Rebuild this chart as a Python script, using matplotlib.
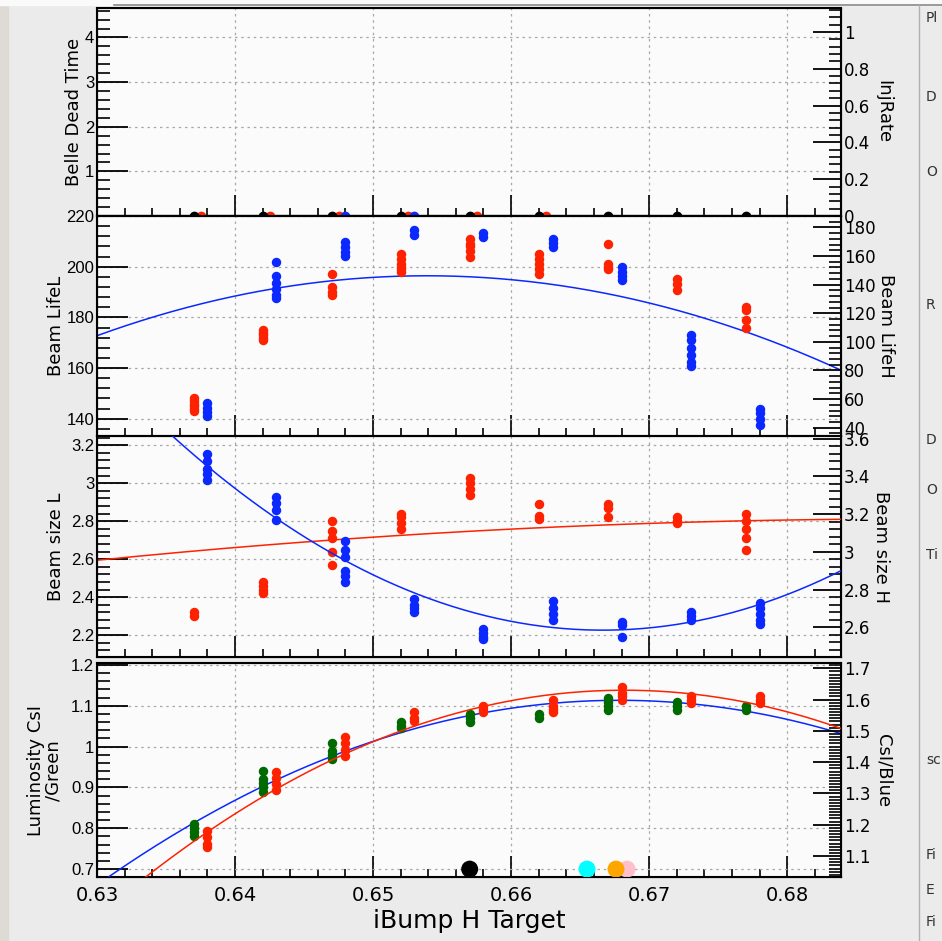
import numpy as np
import matplotlib
matplotlib.use("Agg")
import matplotlib.pyplot as plt
from matplotlib.ticker import MultipleLocator, FormatStrFormatter

# ---- data ----
x_main = [0.637, 0.642, 0.647, 0.652, 0.657, 0.662, 0.667, 0.672, 0.677]
x_off = [0.638, 0.643, 0.648, 0.653, 0.658, 0.663, 0.668, 0.673, 0.678]

# top panel (all sitting at zero)
dead_black_x = [0.637, 0.642, 0.647, 0.652, 0.657, 0.662, 0.667, 0.672, 0.677]
dead_red_x = [0.6375, 0.6425, 0.6475, 0.6525, 0.6575, 0.6625]
dead_blue_x = [0.648, 0.653]

# beam lifetime
life_L = [[148, 147, 146, 145, 144, 143],
          [175, 174, 173, 172, 171],
          [197, 192, 190, 189],
          [205, 203, 201, 200, 199, 198],
          [211, 209, 208, 206, 204],
          [205, 203, 201, 199, 197],
          [209, 201, 200, 199],
          [195, 193, 191],
          [184, 183, 179, 176]]
life_H = [[57, 54, 51, 48],
          [156, 146, 141, 137, 133, 131],
          [170, 166, 163, 160],
          [178, 175],
          [176, 173],
          [172, 169, 166],
          [152, 149, 146, 143],
          [105, 101, 96, 91, 86, 83],
          [53, 50, 46, 42]]
life_fit_x = [0.630, 0.640, 0.6555, 0.670, 0.684]
life_fit_y = [172.4, 189.5, 194.8, 186.8, 158.6]

# beam size
size_L = [[2.32, 2.30],
          [2.48, 2.46, 2.44, 2.42],
          [2.80, 2.75, 2.71, 2.64, 2.57],
          [2.84, 2.82, 2.79, 2.76],
          [3.03, 3.00, 2.97, 2.94],
          [2.89, 2.83, 2.81],
          [2.89, 2.87, 2.82],
          [2.82, 2.80, 2.79],
          [2.84, 2.80, 2.76, 2.71, 2.65]]
size_H = [[3.52, 3.48, 3.44, 3.41, 3.38],
          [3.29, 3.26, 3.22, 3.17],
          [3.06, 3.01, 2.97, 2.90, 2.87, 2.84],
          [2.75, 2.72, 2.70, 2.68],
          [2.59, 2.57, 2.55, 2.54],
          [2.74, 2.70, 2.67, 2.64],
          [2.63, 2.61, 2.55],
          [2.68, 2.66, 2.64],
          [2.73, 2.70, 2.67, 2.64, 2.62]]
sizeL_fit_x = [0.630, 0.650, 0.670, 0.684]
sizeL_fit_y = [2.595, 2.714, 2.791, 2.809]
sizeH_fit_x = [0.6356, 0.6426, 0.650, 0.660, 0.6665, 0.6726, 0.6839]
sizeH_fit_y = [3.614, 3.168, 2.903, 2.639, 2.571, 2.621, 2.903]

# luminosity
lum_green = [[0.81, 0.80, 0.79, 0.78],
             [0.94, 0.92, 0.91, 0.90, 0.89],
             [1.01, 0.99, 0.98, 0.97],
             [1.06, 1.05, 1.045],
             [1.08, 1.07, 1.06],
             [1.08, 1.07],
             [1.12, 1.11, 1.10, 1.09],
             [1.11, 1.10, 1.09],
             [1.10, 1.09]]
lum_red = [[1.18, 1.16, 1.14, 1.13],
           [1.37, 1.35, 1.33, 1.31],
           [1.48, 1.46, 1.44, 1.42],
           [1.56, 1.54, 1.53],
           [1.58, 1.57, 1.56],
           [1.60, 1.58, 1.57, 1.56],
           [1.64, 1.62, 1.61, 1.60],
           [1.61, 1.60, 1.59],
           [1.61, 1.60, 1.59]]
lumG_fit_x = [0.6306, 0.6369, 0.650, 0.660, 0.6691, 0.6839]
lumG_fit_y = [0.682, 0.800, 1.016, 1.098, 1.110, 1.032]
lumB_fit_x = [0.6333, 0.638, 0.650, 0.660, 0.6691, 0.6839]
lumB_fit_y = [1.032, 1.167, 1.465, 1.604, 1.625, 1.508]
marker_x = [0.6570, 0.6655, 0.6684, 0.6676]
marker_c = ['black', 'cyan', 'pink', 'orange']

RED = '#ff2200'
BLUE = '#0a28ff'
GREEN = '#006a00'
XLIM = (0.63, 0.6839)

W, H = 942, 941
fig = plt.figure(figsize=(W / 100, H / 100), dpi=100)
fig.patch.set_facecolor('#ebebeb')

# left textured strip and top white band (GUI window)
fig.patches.append(plt.Rectangle((0, 0), 8 / W, 1, transform=fig.transFigure,
                                 color='#dedbd5', zorder=0))
fig.patches.append(plt.Rectangle((0, 1 - 5 / H), 1, 5 / H, transform=fig.transFigure,
                                 color='#fafafa', zorder=0))
fig.add_artist(plt.Line2D([114 / W, 1], [1 - 5 / H, 1 - 5 / H], color='#888888', lw=1.2))
fig.add_artist(plt.Line2D([919 / W, 919 / W], [0, 1 - 5 / H], color='#b0b0b0', lw=1))
for lab, yy in [('Pl', 18), ('D', 97), ('O', 172), ('R', 305), ('D', 440), ('O', 490),
                ('Ti', 555), ('sc', 760), ('Fi', 855), ('E', 890), ('Fi', 922)]:
    fig.text(926 / W, 1 - yy / H, lab, fontsize=10, color='#333333', va='center',
             family='DejaVu Sans')

L = 97 / W
R = 841 / W
panels = [(8, 216), (216, 436), (436, 657.3), (663.3, 877.3)]


def make_axes(top, bot):
    ax = fig.add_axes([L, 1 - bot / H, R - L, (bot - top) / H])
    ax.set_facecolor('#fbfbfb')
    ax.set_xlim(*XLIM)
    ax.xaxis.set_major_locator(MultipleLocator(0.01))
    ax.xaxis.set_minor_locator(MultipleLocator(0.002))
    ax.tick_params(axis='x', which='major', direction='in', length=15, width=1.2,
                   top=False, labelbottom=False)
    ax.tick_params(axis='x', which='minor', direction='in', length=6, width=1.2, top=False)
    ax.tick_params(axis='y', which='major', direction='in', length=22, width=1.3,
                   labelsize=12, pad=2)
    ax.tick_params(axis='y', which='minor', direction='in', length=9, width=1.2)
    ax.grid(True, which='major', color='#a8a8a8', linestyle=(0, (2, 3)), lw=0.9)
    for s in ax.spines.values():
        s.set_linewidth(1.5)
    tw = ax.twinx()
    tw.tick_params(axis='y', which='major', direction='in', length=20, width=1.3,
                   labelsize=12, pad=2)
    tw.tick_params(axis='y', which='minor', direction='in', length=9, width=1.2)
    return ax, tw


def stacks(ax, xs, groups, color, ms=5.8):
    for xv, g in zip(xs, groups):
        ax.plot([xv] * len(g), g, 'o', color=color, ms=ms, mec=color, zorder=5)


def fit_curve(ax, fx, fy, color, lo=XLIM[0], hi=XLIM[1]):
    c = np.polyfit(fx, fy, 2)
    xx = np.linspace(lo, hi, 300)
    ax.plot(xx, np.polyval(c, xx), color=color, lw=1.1, zorder=4)


def style_right(tw, fmt):
    tw.yaxis.set_major_formatter(FormatStrFormatter(fmt))
    for t in tw.get_yticklabels():
        t.set_family('DejaVu Sans')


# ---- panel 1 ----
ax1, tw1 = make_axes(*panels[0])
ax1.set_ylim(0, 4.66)
ax1.set_yticks([1, 2, 3, 4])
ax1.yaxis.set_minor_locator(MultipleLocator(0.2))
tw1.set_ylim(0, 1.13)
tw1.yaxis.set_major_locator(MultipleLocator(0.2))
tw1.yaxis.set_minor_locator(MultipleLocator(0.04))
ax1.plot(dead_red_x, [0] * len(dead_red_x), 'o', color=RED, ms=6, clip_on=False, zorder=6)
ax1.plot(dead_blue_x, [0] * len(dead_blue_x), 'o', color=BLUE, ms=6, clip_on=False, zorder=6)
ax1.plot(dead_black_x, [0] * len(dead_black_x), 'o', color='black', ms=6, clip_on=False, zorder=7)
ax1.axhline(0, color='black', lw=1.6)
ax1.set_ylabel('Belle Dead Time', fontsize=13, family='DejaVu Sans', labelpad=1)
tw1.set_ylabel('InjRate', fontsize=13, rotation=-90, labelpad=16, family='DejaVu Sans')
style_right(tw1, '%g')

# ---- panel 2 ----
ax2, tw2 = make_axes(*panels[1])
ax2.set_ylim(133.2, 220)
ax2.yaxis.set_major_locator(MultipleLocator(20))
ax2.yaxis.set_minor_locator(MultipleLocator(4))
tw2.set_ylim(34.2, 188)
tw2.yaxis.set_major_locator(MultipleLocator(20))
tw2.yaxis.set_minor_locator(MultipleLocator(4))
stacks(ax2, x_main, life_L, RED)
stacks(tw2, x_off, life_H, BLUE)
fit_curve(ax2, life_fit_x, life_fit_y, BLUE)
ax2.set_ylabel('Beam LifeL', fontsize=13, family='DejaVu Sans', labelpad=1)
tw2.set_ylabel('Beam LifeH', fontsize=13, rotation=-90, labelpad=14, family='DejaVu Sans')
style_right(tw2, '%g')

# ---- panel 3 ----
ax3, tw3 = make_axes(*panels[2])
ax3.set_ylim(2.083, 3.249)
ax3.yaxis.set_major_locator(MultipleLocator(0.2))
ax3.yaxis.set_minor_locator(MultipleLocator(0.04))
ax3.yaxis.set_major_formatter(FormatStrFormatter('%g'))
tw3.set_ylim(2.441, 3.614)
tw3.yaxis.set_major_locator(MultipleLocator(0.2))
tw3.yaxis.set_minor_locator(MultipleLocator(0.04))
stacks(ax3, x_main, size_L, RED)
stacks(tw3, x_off, size_H, BLUE)
fit_curve(ax3, sizeL_fit_x, sizeL_fit_y, RED)
fit_curve(tw3, sizeH_fit_x, sizeH_fit_y, BLUE, lo=0.6355)
ax3.set_ylabel('Beam size L', fontsize=13, family='DejaVu Sans', labelpad=4)
tw3.set_ylabel('Beam size H', fontsize=13, rotation=-90, labelpad=14, family='DejaVu Sans')
style_right(tw3, '%g')

# ---- panel 4 ----
ax4, tw4 = make_axes(*panels[3])
ax4.set_ylim(0.680, 1.204)
ax4.yaxis.set_major_locator(MultipleLocator(0.1))
ax4.yaxis.set_minor_locator(MultipleLocator(0.02))
ax4.yaxis.set_major_formatter(FormatStrFormatter('%g'))
tw4.set_ylim(1.032, 1.716)
tw4.yaxis.set_major_locator(MultipleLocator(0.1))
tw4.yaxis.set_minor_locator(MultipleLocator(0.01))
stacks(ax4, x_main, lum_green, GREEN)
stacks(tw4, x_off, lum_red, RED)
fit_curve(ax4, lumG_fit_x, lumG_fit_y, BLUE)
fit_curve(tw4, lumB_fit_x, lumB_fit_y, RED)
ax4.scatter(marker_x, [0.7] * len(marker_x), s=150, c=marker_c, zorder=8, lw=0)
ax4.tick_params(axis='x', labelbottom=True, labelsize=14, pad=6)
ax4.xaxis.set_major_formatter(FormatStrFormatter('%.2f'))
for t in ax4.get_xticklabels():
    t.set_family('DejaVu Sans')
ax4.set_xlabel('iBump H Target', fontsize=18, family='DejaVu Sans', labelpad=3)
ax4.set_ylabel('Luminosity CsI\n/Green', fontsize=13, family='DejaVu Sans',
               labelpad=6, linespacing=1.0)
tw4.set_ylabel('CsI/Blue', fontsize=13, rotation=-90, labelpad=16, family='DejaVu Sans')
style_right(tw4, '%g')
for a in (ax1, ax2, ax3, ax4):
    for t in a.get_yticklabels():
        t.set_family('Liberation Sans')

fig.savefig('out.png', dpi=100, facecolor=fig.get_facecolor())
